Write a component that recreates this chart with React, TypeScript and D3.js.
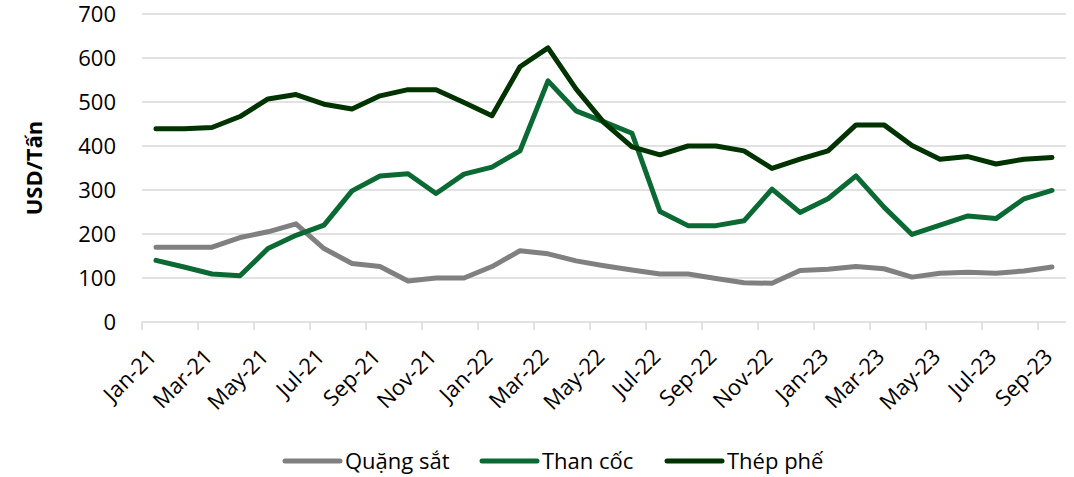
import React from "react";
import * as d3 from "d3";

const months = [
  "Jan-21","Feb-21","Mar-21","Apr-21","May-21","Jun-21","Jul-21","Aug-21","Sep-21","Oct-21","Nov-21","Dec-21",
  "Jan-22","Feb-22","Mar-22","Apr-22","May-22","Jun-22","Jul-22","Aug-22","Sep-22","Oct-22","Nov-22","Dec-22",
  "Jan-23","Feb-23","Mar-23","Apr-23","May-23","Jun-23","Jul-23","Aug-23","Sep-23",
];

const quangSat = [170,170,170,192,205,223,167,133,126,93,100,100,126,162,155,139,128,118,109,109,99,89,88,117,120,126,121,102,111,113,111,116,125];
const thanCoc = [140,125,109,105,167,197,220,298,332,337,292,336,352,389,548,480,455,429,251,219,219,230,302,249,280,332,261,199,220,241,235,280,299];
const thepPhe = [439,439,442,467,507,517,495,484,514,528,528,499,469,580,623,530,453,398,380,400,400,389,349,370,389,448,448,401,370,376,359,370,374];

const yTicks = [0,100,200,300,400,500,600,700];

const seriesNames = ["Quặng sắt","Than cốc","Thép phế"];
const seriesColors = ["#808080","#0B6A33","#013300"];

const W = 1074, H = 477;
const m = { left: 142, right: 1066, top: 14, bottom: 322 };
const FONT = "'Open Sans', 'Noto Sans', sans-serif";

export default function App() {
  const x = d3.scaleBand<string>().domain(months).range([m.left, m.right]).padding(0);
  const y = d3.scaleLinear().domain([0, 700]).range([m.bottom, m.top]);
  const cx = (mo: string) => (x(mo) as number) + x.bandwidth() / 2;
  const data = [quangSat, thanCoc, thepPhe];
  const line = d3.line<number>().x((_, i) => cx(months[i])).y((v) => y(v));
  const tickIdx = months.map((_, i) => i).filter((i) => i % 2 === 0);
  const legendX = [285, 482, 667];

  return (
    <svg width={W} height={H} style={{ position: "absolute", left: 0, top: 0, background: "#fff" }} fontFamily={FONT}>
      {yTicks.map((t) => (
        <g key={t}>
          {t > 0 && <line x1={m.left} x2={m.right} y1={y(t)} y2={y(t)} stroke="#d9d9d9" strokeWidth={1.5} />}
          <text x={116} y={y(t)} dy="0.35em" textAnchor="end" fontSize={22} fill="#000">{t}</text>
        </g>
      ))}
      <line x1={m.left} x2={m.right} y1={y(0)} y2={y(0)} stroke="#d9d9d9" strokeWidth={1.5} />
      {d3.range(0, months.length + 1, 2).map((i) => {
        const xx = m.left + i * x.bandwidth();
        return <line key={i} x1={xx} x2={xx} y1={y(0)} y2={y(0) + 8} stroke="#d9d9d9" strokeWidth={1.5} />;
      })}
      {tickIdx.map((i) => (
        <text key={i} transform={`translate(${cx(months[i]) + 2},${y(0) + 36}) rotate(-45)`} textAnchor="end" fontSize={22} fill="#000">
          {months[i]}
        </text>
      ))}
      <text transform={`translate(34,${(m.top + m.bottom) / 2}) rotate(-90)`} textAnchor="middle" dy="0.35em" fontSize={22} fontWeight="bold" fill="#000">
        USD/Tấn
      </text>
      {data.map((d, k) => (
        <path key={k} d={line(d) || ""} fill="none" stroke={seriesColors[k]} strokeWidth={5} strokeLinejoin="round" strokeLinecap="round" />
      ))}
      {seriesNames.map((n, k) => (
        <g key={n}>
          <line x1={legendX[k]} x2={legendX[k] + 55} y1={461} y2={461} stroke={seriesColors[k]} strokeWidth={5} strokeLinecap="round" />
          <text x={legendX[k] + 60} y={461} dy="0.35em" fontSize={22} fill="#000">{n}</text>
        </g>
      ))}
    </svg>
  );
}
